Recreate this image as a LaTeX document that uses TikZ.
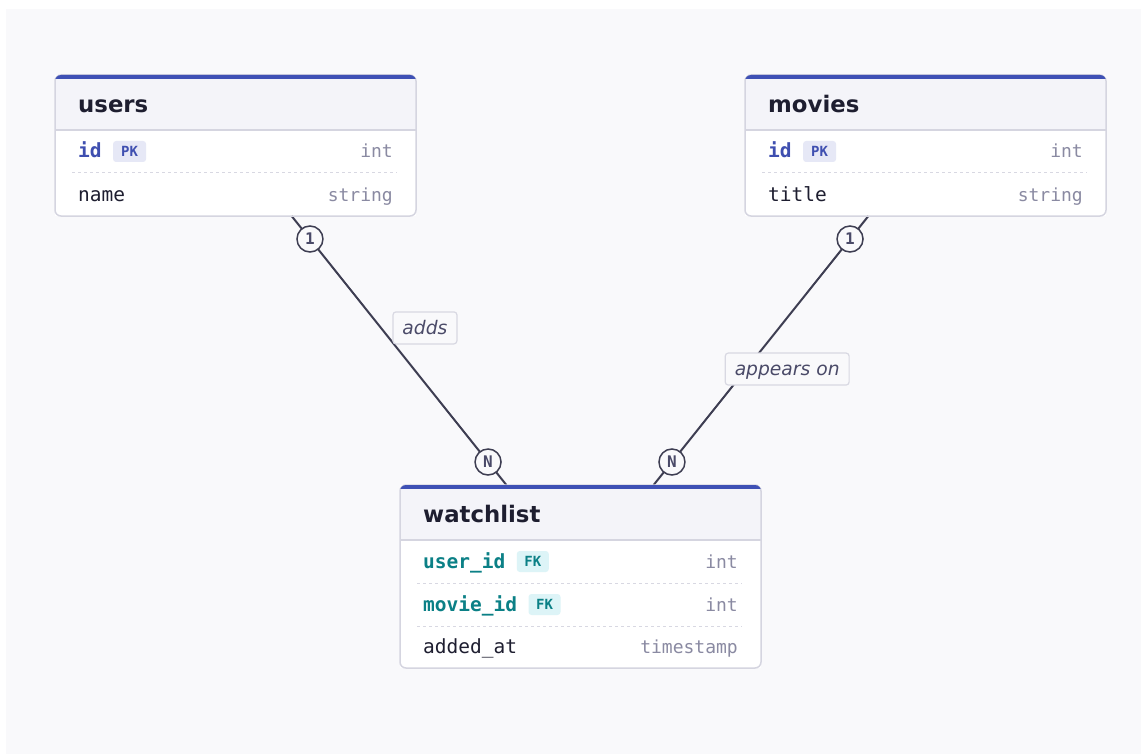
\documentclass[tikz,border=0pt]{standalone}
\usepackage{fontspec}
\setmainfont{DejaVu Sans}
\setmonofont{DejaVu Sans Mono}
\usetikzlibrary{calc}
\definecolor{pagebg}{HTML}{F9F9FB}
\definecolor{hdrbg}{HTML}{F4F4F9}
\definecolor{bordc}{HTML}{D5D5E0}
\definecolor{barc}{HTML}{3F51B5}
\definecolor{pkc}{HTML}{3F4FB0}
\definecolor{pkbg}{HTML}{E6E8F6}
\definecolor{fkc}{HTML}{0B8086}
\definecolor{fkbg}{HTML}{DDF4F7}
\definecolor{typec}{HTML}{8A8AA2}
\definecolor{txtc}{HTML}{1E1E30}
\definecolor{linec}{HTML}{3E3E52}
\definecolor{lblc}{HTML}{4A4A68}
\definecolor{sepc}{HTML}{D8D8E2}
\newcommand\fs[1]{\fontsize{#1}{#1}\selectfont}
\tikzset{
  tbl/.style={fill=white, minimum width=361, minimum height=#1, anchor=north west, inner sep=0, outer sep=0},
  tbltitle/.style={anchor=base west, font=\fs{22.8}\bfseries, text=txtc, inner sep=0},
  fname/.style={anchor=base west, font=\fs{19.5}\ttfamily, text=txtc, inner sep=0},
  pkname/.style={fname, font=\fs{19.5}\ttfamily\bfseries, text=pkc},
  fkname/.style={fname, font=\fs{19.5}\ttfamily\bfseries, text=fkc},
  ftype/.style={anchor=base east, font=\fs{18}\ttfamily, text=typec, inner sep=0},
  pkbadge/.style={anchor=west, fill=pkbg, rounded corners=3, minimum height=21, minimum width=33, inner sep=0, font=\fs{14}\ttfamily\bfseries, text=pkc},
  fkbadge/.style={pkbadge, fill=fkbg, text=fkc, minimum width=32},
  sepline/.style={draw=sepc, line width=1, dash pattern=on 3 off 3},
  border/.style={draw=bordc, line width=1.5, rounded corners=6},
  conn/.style={draw=linec, line width=2},
  card/.style={circle, draw=linec, line width=1.5, fill=pagebg, minimum size=26, inner sep=0, font=\fs{16}\ttfamily\bfseries, text=lblc},
  lbl/.style={fill=pagebg, draw=sepc, line width=1.2, rounded corners=3, minimum height=32, inner xsep=9.5, inner ysep=0, text height=15, text depth=2.5, font=\fs{18.7}\itshape, text=lblc}
}
\newcommand\tblframe[2]{%
  \begin{scope}
    \clip[rounded corners=6] (#1.north west) rectangle (#1.south east);
    \fill[hdrbg] (#1.north west) rectangle ($(#1.north east)+(0,#2)$);
  \end{scope}
  \draw[bordc, line width=1.5] ($(#1.north west)+(0,#2)$) -- ($(#1.north east)+(0,#2)$);
  \draw[border] (#1.north west) rectangle (#1.south east);
  \begin{scope}
    \clip[rounded corners=6] (#1.north west) rectangle (#1.south east);
    \fill[barc] ($(#1.north west)+(-2,-2)$) rectangle ($(#1.north east)+(2,4)$);
  \end{scope}
}
\begin{document}
\begin{tikzpicture}[x=1pt, y=-1pt]
\useasboundingbox (0,0) rectangle (1147,754);
\fill[white] (0,0) rectangle (1147,754);
\fill[pagebg] (6,9) rectangle (1141,754);

% table nodes
\node[tbl=141] (users) at (55,75) {};
\node[tbl=141] (movies) at (745,75) {};
\node[tbl=183] (watchlist) at (400,485) {};

% connectors
\coordinate (u1) at ($(users.south west)+(236.6,0)$);
\coordinate (w1) at ($(watchlist.north west)+(106.4,0)$);
\coordinate (m1) at ($(movies.south west)+(123.4,0)$);
\coordinate (w2) at ($(watchlist.north west)+(253.6,0)$);
\draw[conn] (u1) -- node[card, pos=0.0855] (c1) {1}
  node[lbl, pos=0.416, xshift=44] (l1) {adds}
  node[card, pos=0.9145] (c2) {N} (w1);
\draw[conn] (m1) -- node[card, pos=0.0855] (c3) {1}
  node[lbl, pos=0.569, xshift=41] (l2) {appears on}
  node[card, pos=0.9145] (c4) {N} (w2);

% users
\tblframe{users}{55}
\node[tbltitle] (users-title) at (78,112.5) {users};
\node[pkname] (users-id) at (78,158) {id};
\node[pkbadge] (users-pk) at ($(users-id.base east)+(11,-6.5)$) {PK};
\node[ftype] (users-idt) at (393,158) {int};
\draw[sepline] (72,173) -- (397,173);
\node[fname] (users-name) at (78,201) {name};
\node[ftype] (users-namet) at (393,201) {string};

% movies
\tblframe{movies}{55}
\node[tbltitle] (movies-title) at (768,112.5) {movies};
\node[pkname] (movies-id) at (768,158) {id};
\node[pkbadge] (movies-pk) at ($(movies-id.base east)+(11,-6.5)$) {PK};
\node[ftype] (movies-idt) at (1083,158) {int};
\draw[sepline] (762,173) -- (1087,173);
\node[fname] (movies-titlef) at (768,201) {title};
\node[ftype] (movies-titlet) at (1083,201) {string};

% watchlist
\tblframe{watchlist}{55}
\node[tbltitle] (wl-title) at (423,522.5) {watchlist};
\node[fkname] (wl-uid) at (423,568) {user\_id};
\node[fkbadge] (wl-ufk) at ($(wl-uid.base east)+(11,-6.5)$) {FK};
\node[ftype] (wl-uidt) at (738,568) {int};
\draw[sepline] (417,583) -- (742,583);
\node[fkname] (wl-mid) at (423,611) {movie\_id};
\node[fkbadge] (wl-mfk) at ($(wl-mid.base east)+(11,-6.5)$) {FK};
\node[ftype] (wl-midt) at (738,611) {int};
\draw[sepline] (417,626) -- (742,626);
\node[fname] (wl-add) at (423,653) {added\_at};
\node[ftype] (wl-addt) at (738,653) {timestamp};
\end{tikzpicture}
\end{document}
